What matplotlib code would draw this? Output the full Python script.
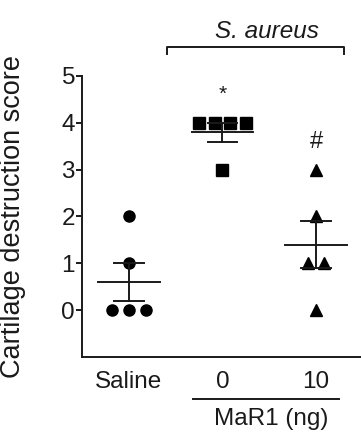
import numpy as np
import matplotlib
matplotlib.use("Agg")
import matplotlib.pyplot as plt

plt.rcParams['font.family'] = ['Liberation Sans', 'DejaVu Sans']

# adatok: porckárosodási pontszámok csoportonként
groups = ["Saline", "0", "10"]
saline = [2, 1, 0, 0, 0]
aureus_0 = [4, 4, 4, 4, 3]
aureus_10 = [3, 2, 1, 1, 0]
markers = ["o", "s", "^"]
marker_sizes = [8.0, 8.0, 8.0]
spread = [0.18, 0.166, 0.17]


def swarm(values, step):
    # azonos értékeket egymás mellé tesz
    vals = np.asarray(values, dtype=float)
    offs = np.zeros(len(vals))
    for v in np.unique(vals):
        idx = np.where(vals == v)[0]
        n = len(idx)
        offs[idx] = (np.arange(n) - (n - 1) / 2) * step
    return offs


W, H, dpi = 361, 447, 100
fig = plt.figure(figsize=(W / dpi, H / dpi), dpi=dpi)
ax = fig.add_axes([82 / W, 1 - 357 / H, 281 / W, 281 / H])

lw = 1.4
col = "#1a1a1a"
for i, vals in enumerate([saline, aureus_0, aureus_10]):
    offs = swarm(vals, spread[i])
    ax.plot(i + offs, vals, linestyle="none", marker=markers[i],
            ms=marker_sizes[i], color="black", clip_on=False, zorder=3)
    m = np.mean(vals)
    sem = np.std(vals, ddof=1) / np.sqrt(len(vals))
    ax.plot([i - 0.33, i + 0.33], [m, m], color=col, lw=lw, zorder=4)
    ax.plot([i, i], [m - sem, m + sem], color=col, lw=lw, zorder=4)
    for y in (m - sem, m + sem):
        ax.plot([i - 0.16, i + 0.16], [y, y], color=col, lw=lw, zorder=4)

ax.set_xlim(-0.5, 2.5)
ax.set_ylim(-1, 5)
ax.set_yticks([0, 1, 2, 3, 4, 5])
ax.set_xticks([0, 1, 2])
ax.set_xticklabels(groups)
ax.tick_params(axis="x", length=0, pad=10, labelsize=17.5, labelcolor=col)
ax.tick_params(axis="y", length=4, width=lw, pad=1, labelsize=17.5, labelcolor=col, color=col)
ax.spines["top"].set_visible(False)
ax.spines["right"].set_visible(False)
for s in ("left", "bottom"):
    ax.spines[s].set_linewidth(lw)
    ax.spines[s].set_color(col)
ax.set_ylabel("Cartilage destruction score", fontsize=19.5, color=col)
ax.yaxis.set_label_coords(-0.20, 0.5)

# szignifikancia jelek
ax.text(1, 4.6, "*", ha="center", va="center", fontsize=15, color=col)
ax.text(2, 3.6, "#", ha="center", va="center", fontsize=17, color=col)

# S. aureus zárójel
ax.plot([0.41, 0.41, 2.30, 2.30], [5.47, 5.62, 5.62, 5.47], color=col,
        lw=lw, clip_on=False)
ax.text(1.47, 5.96, "S. aureus", style="italic", ha="center", va="center",
        fontsize=17.5, color=col)

# MaR1 aláhúzás
ax.plot([0.68, 2.24], [-1.9, -1.9], color=col, lw=lw, clip_on=False)
ax.text(1.52, -2.33, "MaR1 (ng)", ha="center", va="center", fontsize=17.5, color=col)

fig.savefig("out.png", dpi=dpi)
